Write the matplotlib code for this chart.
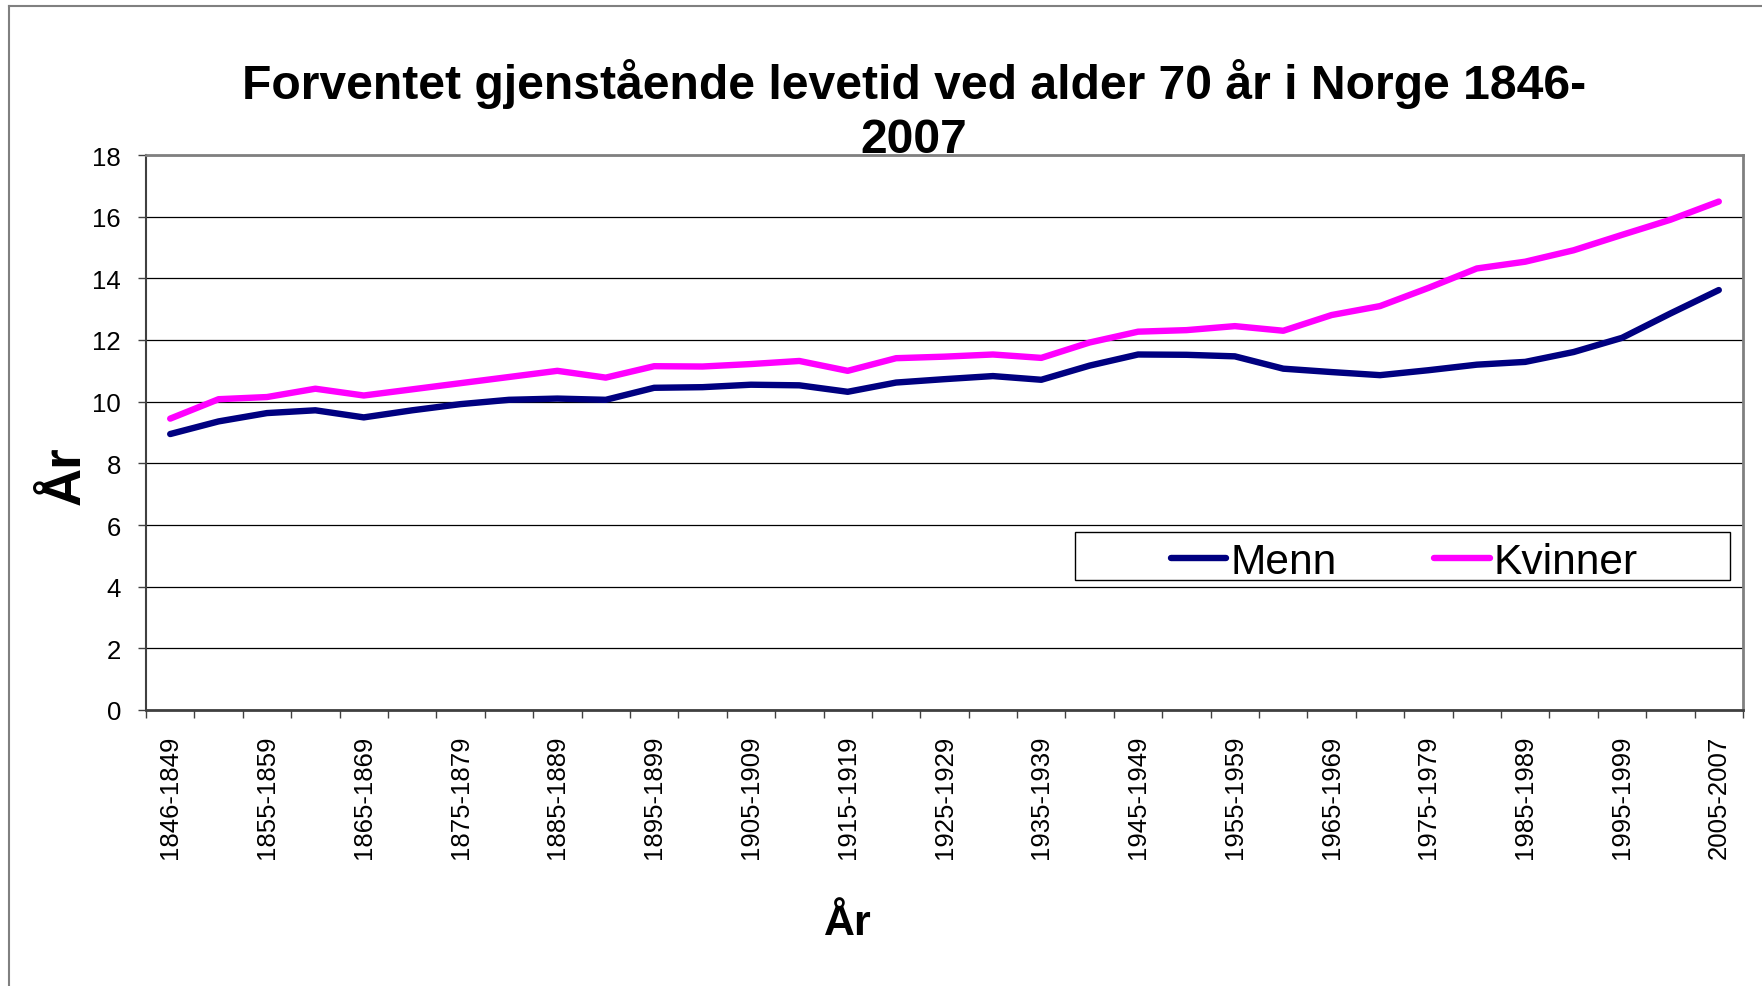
import matplotlib
matplotlib.use("Agg")
import matplotlib.pyplot as plt
from matplotlib.patches import Rectangle
from matplotlib.lines import Line2D

plt.rcParams['font.family'] = ['Liberation Sans', 'DejaVu Sans']

categories = ["1846-1849", "1850-1854", "1855-1859", "1860-1864", "1865-1869",
              "1870-1874", "1875-1879", "1880-1884", "1885-1889", "1890-1894",
              "1895-1899", "1900-1904", "1905-1909", "1910-1914", "1915-1919",
              "1920-1924", "1925-1929", "1930-1934", "1935-1939", "1940-1944",
              "1945-1949", "1950-1954", "1955-1959", "1960-1964", "1965-1969",
              "1970-1974", "1975-1979", "1980-1984", "1985-1989", "1990-1994",
              "1995-1999", "2000-2004", "2005-2007"]

menn = [8.95, 9.36, 9.63, 9.72, 9.49, 9.72, 9.92, 10.06, 10.10, 10.06,
        10.45, 10.47, 10.55, 10.53, 10.32, 10.62, 10.73, 10.83, 10.71, 11.17,
        11.53, 11.52, 11.47, 11.07, 10.96, 10.86, 11.02, 11.20, 11.29, 11.61,
        12.07, 12.86, 13.62]

kvinner = [9.45, 10.08, 10.15, 10.42, 10.20, 10.40, 10.60, 10.80, 11.00, 10.78,
           11.15, 11.14, 11.22, 11.32, 11.00, 11.41, 11.46, 11.53, 11.42, 11.92,
           12.27, 12.32, 12.45, 12.30, 12.81, 13.10, 13.69, 14.32, 14.54, 14.91,
           15.41, 15.90, 16.49]

yticks = list(range(0, 19, 2))

W, H = 1762, 987
fig = plt.figure(figsize=(W / 100, H / 100), dpi=100)
fig.patch.set_facecolor("white")

# outer chart border (top and left visible)
fig.add_artist(Line2D([9 / W, 1.0], [1 - 7 / H, 1 - 7 / H], transform=fig.transFigure,
                      color="#808080", lw=1.5))
fig.add_artist(Line2D([9 / W, 9 / W], [0, 1 - 7 / H], transform=fig.transFigure,
                      color="#808080", lw=1.5))

left, right, top, bottom = 146 / W, 1743 / W, 156 / H, 711 / H
ax = fig.add_axes([left, 1 - bottom, right - left, bottom - top])

x = list(range(len(categories)))
ax.plot(x, menn, color="#000080", lw=4.6, label="Menn", solid_capstyle="round",
        solid_joinstyle="round", zorder=3)
ax.plot(x, kvinner, color="#FF00FF", lw=4.6, label="Kvinner", solid_capstyle="round",
        solid_joinstyle="round", zorder=3)

ax.set_xlim(-0.5, len(categories) - 0.5)
ax.set_ylim(0, 18)
ax.set_yticks(yticks)
ax.set_yticklabels([str(v) for v in yticks])
ax.yaxis.grid(True, color="black", lw=0.9)
ax.set_axisbelow(True)

ax.set_xticks(x[::2])
ax.set_xticklabels(categories[::2], rotation=90)
ax.set_xticks([i - 0.5 for i in range(len(categories) + 1)], minor=True)
ax.tick_params(axis="x", which="major", length=0, pad=18, labelsize=18.5)
ax.tick_params(axis="x", which="minor", length=6, width=1, color="#404040")
ax.tick_params(axis="y", length=6, width=1, color="#404040", pad=12, labelsize=18.5)

for s in ["top", "right"]:
    ax.spines[s].set_color("#808080")
    ax.spines[s].set_linewidth(2)
ax.spines["left"].set_color("#404040")
ax.spines["left"].set_linewidth(1.5)
ax.spines["bottom"].set_color("#404040")
ax.spines["bottom"].set_linewidth(2)

fig.text(914 / W, 1 - 111 / H, "Forventet gjenstående levetid ved alder 70 år i Norge 1846-\n2007",
         ha="center", va="center", fontsize=34.6, fontweight="bold", linespacing=1.24)

fig.text(848 / W, 1 - 924 / H, "År", ha="center", va="center", fontsize=31, fontweight="bold")
fig.text(66 / W, 1 - 476 / H, "År", ha="center", va="center", fontsize=38,
         fontweight="bold", rotation=90)

# legend box
bx0, by0, bx1, by1 = 1075, 533, 1730, 581
fig.add_artist(Rectangle((bx0 / W, 1 - by1 / H), (bx1 - bx0) / W, (by1 - by0) / H,
                         transform=fig.transFigure, facecolor="white", edgecolor="black",
                         lw=1, zorder=4))
leg = fig.legend(loc="center", bbox_to_anchor=((bx0 + bx1) / 2 / W + 2 / W, 1 - (by0 + by1) / 2 / H - 6 / H),
                 ncol=2, frameon=False, fontsize=30.6, handlelength=1.3, handletextpad=0.1,
                 columnspacing=2.3, borderpad=0, borderaxespad=0)
leg.set_zorder(5)

fig.savefig("out.png", dpi=100, facecolor="white")
